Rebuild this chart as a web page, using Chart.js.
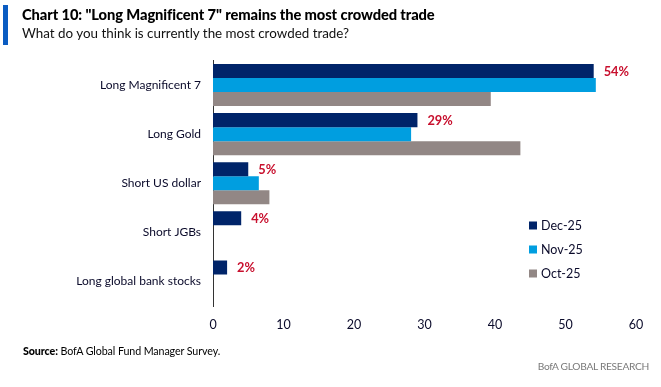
<!DOCTYPE html>
<html>
<head>
<meta charset="utf-8">
<script src="https://cdn.jsdelivr.net/npm/chart.js@4.4.1/dist/chart.umd.min.js"></script>
<style>
  html, body { margin: 0; padding: 0; background: #fff; }
  #wrap { position: relative; width: 661px; height: 387px; overflow: hidden; }
  #c { position: absolute; left: 0; top: 0; }
  .bar { position: absolute; left: 3px; top: 5px; width: 5px; height: 40px; background: #0a5cc2; }
  .title { position: absolute; left: 22px; top: 5px; font: 900 14.7px Lato, sans-serif; color: #000; white-space: nowrap; letter-spacing: -0.1px; }
  .sub { position: absolute; left: 22px; top: 25px; font: 13.4px Lato, sans-serif; color: #111; white-space: nowrap; }
  .src { position: absolute; left: 23px; top: 344px; font: 10.7px Lato, sans-serif; color: #000; white-space: nowrap; letter-spacing: -0.1px; }
  .src b { font-weight: 900; }
  .foot { position: absolute; right: 12px; top: 360px; font: 10.2px Lato, sans-serif; color: #7a7a7a; white-space: nowrap; letter-spacing: -0.3px; }
</style>
</head>
<body>
<div id="wrap">
  <canvas id="c" width="661" height="387"></canvas>
  <div class="bar"></div>
  <div class="title">Chart 10: "Long Magnificent 7" remains the most crowded trade</div>
  <div class="sub">What do you think is currently the most crowded trade?</div>
  <div class="src"><b>Source:</b> BofA Global Fund Manager Survey.</div>
  <div class="foot">BofA GLOBAL RESEARCH</div>
</div>
<script>
const categories = ["Long Magnificent 7", "Long Gold", "Short US dollar", "Short JGBs", "Long global bank stocks"];
const seriesNames = ["Dec-25", "Nov-25", "Oct-25"];
const dec25 = [54, 29, 5, 4, 2];
const nov25 = [54.3, 28.1, 6.5, null, null];
const oct25 = [39.4, 43.6, 8.0, null, null];
const decLabels = ["54%", "29%", "5%", "4%", "2%"];
const xTicks = [0, 10, 20, 30, 40, 50, 60];

const colors = ["#002469", "#009ee0", "#928785"];

const valueLabels = {
  id: 'valueLabels',
  afterDatasetsDraw(chart) {
    const ctx = chart.ctx;
    const meta = chart.getDatasetMeta(0);
    ctx.save();
    ctx.font = 'bold 12.8px Lato, sans-serif';
    ctx.fillStyle = '#c8102e';
    ctx.textAlign = 'left';
    ctx.textBaseline = 'middle';
    meta.data.forEach((bar, i) => {
      if (decLabels[i] == null) return;
      ctx.fillText(decLabels[i], bar.x + 10, bar.y + 0.5);
    });
    ctx.restore();
  }
};

const customLegend = {
  id: 'customLegend',
  afterDraw(chart) {
    const ctx = chart.ctx;
    ctx.save();
    ctx.font = '12.5px Lato, sans-serif';
    ctx.textBaseline = 'middle';
    ctx.textAlign = 'left';
    const x0 = 529, ys = [225.5, 249.5, 273.5];
    chart.data.datasets.forEach((ds, i) => {
      ctx.fillStyle = ds.backgroundColor;
      ctx.fillRect(x0, ys[i] - 4, 8, 8);
      ctx.fillStyle = '#0a0a2a';
      ctx.fillText(ds.label, x0 + 12, ys[i]);
    });
    ctx.restore();
  }
};

new Chart(document.getElementById('c'), {
  type: 'bar',
  data: {
    labels: categories,
    datasets: [
      { label: seriesNames[0], data: dec25, backgroundColor: colors[0] },
      { label: seriesNames[1], data: nov25, backgroundColor: colors[1] },
      { label: seriesNames[2], data: oct25, backgroundColor: colors[2] }
    ]
  },
  options: {
    indexAxis: 'y',
    responsive: false,
    animation: false,
    devicePixelRatio: 1,
    layout: { padding: { left: 0, top: 60.5, right: 25, bottom: 50 } },
    datasets: { bar: { categoryPercentage: 0.857, barPercentage: 1.0, borderWidth: 0 } },
    plugins: {
      legend: { display: false },
      tooltip: { enabled: false },
      title: { display: false }
    },
    scales: {
      x: {
        type: 'linear',
        min: 0, max: 60,
        afterBuildTicks(scale) { scale.ticks = xTicks.map(v => ({ value: v })); },
        grid: { display: false, drawTicks: false },
        border: { display: false },
        ticks: { color: '#0a0a2a', font: { size: 12.5, family: 'Lato' }, padding: 11, maxRotation: 0 },
        afterFit(scale) { scale.height = 31; }
      },
      y: {
        grid: { display: false, drawTicks: false },
        border: { display: true, color: '#333', width: 1 },
        ticks: { color: '#0a0a2a', font: { size: 12, family: 'Lato' }, padding: 12 },
        afterFit(scale) { scale.width = 213; }
      }
    }
  },
  plugins: [valueLabels, customLegend]
});
</script>
</body>
</html>
